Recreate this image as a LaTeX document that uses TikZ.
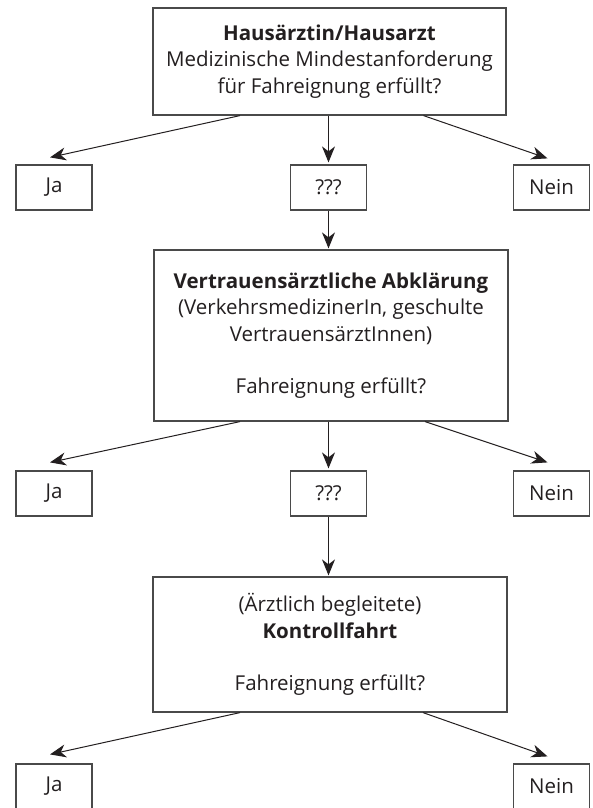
\documentclass[tikz,border=0pt]{standalone}
\usepackage{fontspec}
\setmainfont{Open Sans}
\usetikzlibrary{arrows.meta}
\definecolor{ink}{HTML}{231F20}
\definecolor{frame}{HTML}{4A4A4A}
\begin{document}
\begin{tikzpicture}[x=1pt,y=-1pt,
  font=\fontsize{20.5}{26.5}\selectfont, text=ink,
  bigbox/.style={draw=frame, line width=1.2pt, inner sep=0pt, align=center, minimum width=353pt},
  smallbox/.style={draw=frame, line width=1.2pt, inner sep=0pt, minimum width=76pt, minimum height=45pt},
  arr/.style={draw=ink, line width=1pt, -{Stealth[length=16pt,width=13pt,inset=5pt]}}]
\useasboundingbox (0,0) rectangle (593,808);
% first stage
\node[bigbox, minimum height=107pt] (top) at (329.5,61.5)
  {\textbf{Hausärztin/Hausarzt}\\Medizinische Mindestanforderung\\für Fahreignung erfüllt?};
\node[smallbox] (ja1) at (54,187.5) {Ja};
\node[smallbox] (q1) at (328.5,187.5) {???};
\node[smallbox] (nein1) at (551.5,187.5) {Nein};
% second stage
\node[bigbox, minimum height=171pt, minimum width=354pt] (mid) at (331,335.5)
  {\textbf{Vertrauensärztliche Abklärung}\\(VerkehrsmedizinerIn, geschulte\\VertrauensärztInnen)\\[26pt]Fahreignung erfüllt?};
\node[smallbox] (ja2) at (54,493.5) {Ja};
\node[smallbox] (q2) at (328.5,493.5) {???};
\node[smallbox] (nein2) at (551.5,493.5) {Nein};
% third stage
\node[bigbox, minimum height=135pt, minimum width=354pt] (low) at (330,644.5)
  {(Ärztlich begleitete)\\\textbf{Kontrollfahrt}\\[26pt]Fahreignung erfüllt?};
\node[smallbox] (ja3) at (54,786.5) {Ja};
\node[smallbox] (nein3) at (551.5,786.5) {Nein};
% arrows
\draw[arr] ([xshift=-89.5pt]top.south) -- ([xshift=-4pt,yshift=7pt]ja1.north);
\draw[arr] (q1 |- top.south) -- ([yshift=2pt]q1.north);
\draw[arr] ([xshift=94pt]top.south) -- ([xshift=-4pt,yshift=6pt]nein1.north);
\draw[arr] (q1.south) -- ([yshift=1pt]q1 |- mid.north);
\draw[arr] ([xshift=-91pt]mid.south) -- ([xshift=-4pt,yshift=8pt]ja2.north);
\draw[arr] (q2 |- mid.south) -- ([yshift=2pt]q2.north);
\draw[arr] ([xshift=94pt]mid.south) -- ([xshift=-4pt,yshift=8pt]nein2.north);
\draw[arr] (q2.south) -- ([yshift=1pt]q2 |- low.north);
\draw[arr] ([xshift=-90pt]low.south) -- ([xshift=-4pt,yshift=9pt]ja3.north);
\draw[arr] ([xshift=93pt]low.south) -- ([xshift=-4pt,yshift=7pt]nein3.north);
\end{tikzpicture}
\end{document}
